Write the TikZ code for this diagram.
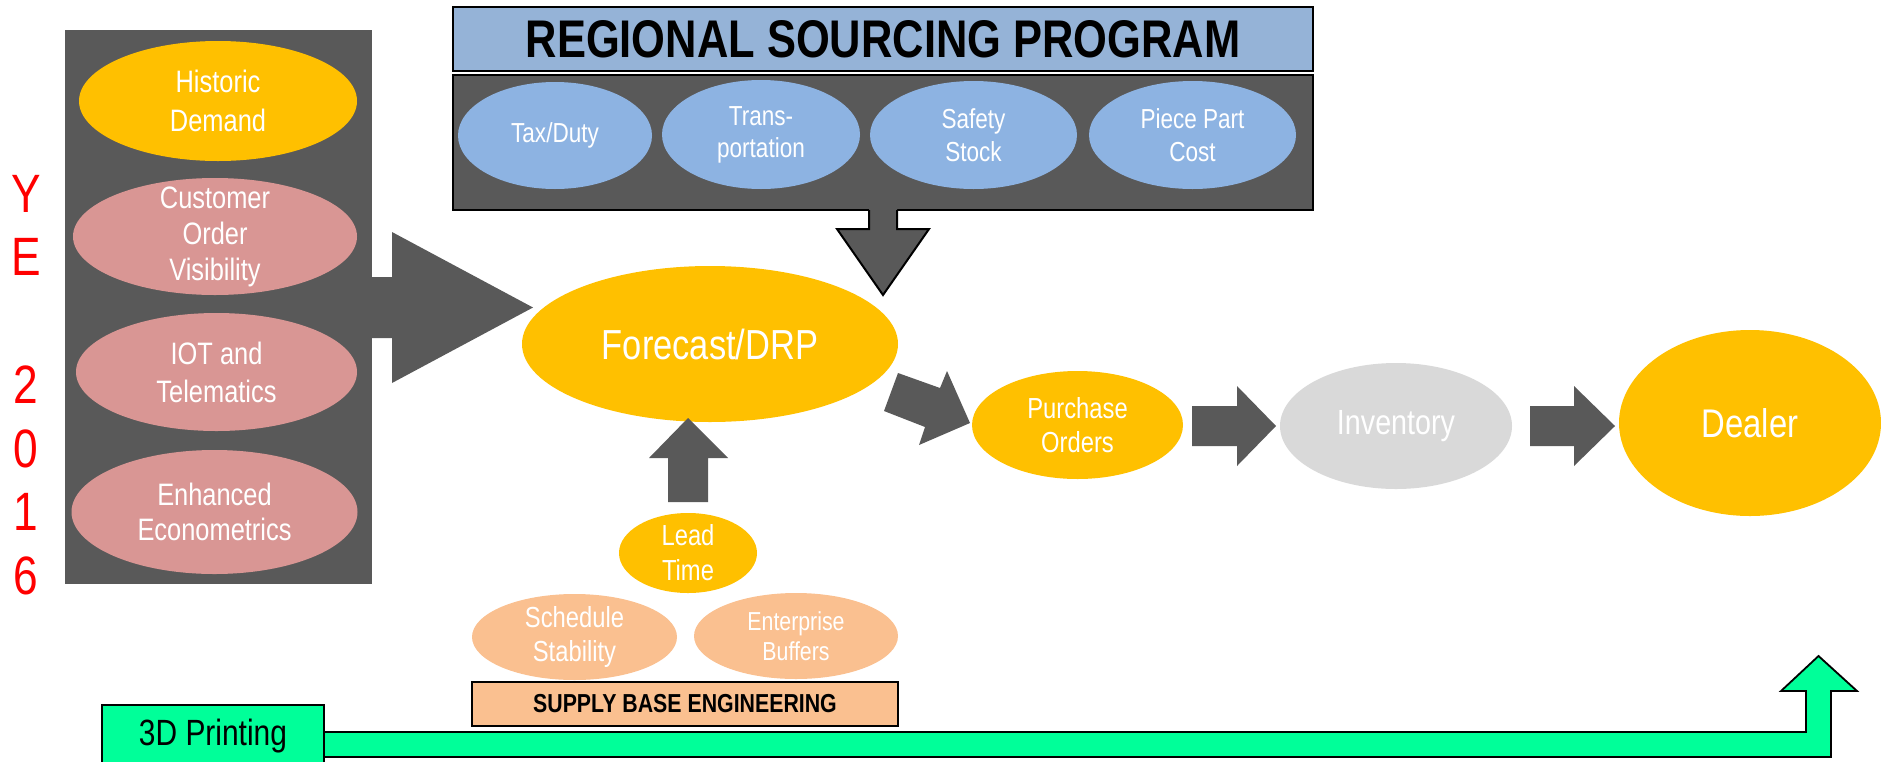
\documentclass[tikz,border=0pt]{standalone}
\usepackage{fontspec}
\setmainfont{Liberation Sans}[FakeStretch=0.82]
\usetikzlibrary{shapes.geometric}
\definecolor{slate}{HTML}{595959}
\definecolor{amber}{HTML}{FFC000}
\definecolor{rose}{HTML}{D99694}
\definecolor{titleblue}{HTML}{95B3D7}
\definecolor{capblue}{HTML}{8DB3E2}
\definecolor{peach}{HTML}{FAC090}
\definecolor{mist}{HTML}{D9D9D9}
\definecolor{mint}{HTML}{00FF99}
\newcommand\fsz[2]{\fontsize{#1}{#2}\selectfont}

\begin{document}
\begin{tikzpicture}[x=1pt,y=-1pt,
  blob/.style={ellipse, draw=none, inner sep=0pt},
  lbl/.style={text=white, align=center, inner sep=0pt},
  panel/.style={rectangle, inner sep=0pt},
  framed/.style={draw=black, line width=2pt},
  block/.style={fill=slate, draw=none},
]
\useasboundingbox (0,0) rectangle (1881,761);
\clip (0,0) rectangle (1881,761);

% ---------- year label ----------
\foreach \ch/\yb [count=\i] in {Y/212,E/275,2/403,0/467,1/530,6/594}
  \node[anchor=base, text=red, font=\fsz{54}{60}, inner sep=0pt] (year-\i) at (26,\yb) {\ch};

% ---------- demand inputs ----------
\node[panel, fill=slate, minimum width=307pt, minimum height=554pt] (inputs) at (218.5,307) {};
\fill[slate] (372,277) -- (392,277) -- (392,232) -- (533,307.5) -- (392,383) -- (392,338) -- (372,338) -- cycle;

\node[blob, fill=amber, minimum width=278pt, minimum height=120pt] (hist) at (218,101) {};
\node[lbl, font=\fsz{31}{39}] (hist-t) at (hist) {Historic\\Demand};
\node[blob, fill=rose, minimum width=284pt, minimum height=117pt] (cov) at (215,236.5) {};
\node[lbl, font=\fsz{31}{36}] (cov-t) at (cov) {Customer\\Order\\Visibility};
\node[blob, fill=rose, minimum width=281pt, minimum height=118pt] (iot) at (216.5,372) {};
\node[lbl, font=\fsz{31}{38}] (iot-t) at (iot) {IOT and\\Telematics};
\node[blob, fill=rose, minimum width=286pt, minimum height=124pt] (econ) at (214.5,512) {};
\node[lbl, font=\fsz{31}{35}] (econ-t) at (econ) {Enhanced\\Econometrics};

% ---------- regional sourcing program ----------
\node[panel, framed, fill=titleblue, minimum width=860pt, minimum height=64pt,
      font=\fsz{53}{60}\bfseries] (title) at (883,39) {REGIONAL SOURCING PROGRAM};
\node[panel, framed, fill=slate, minimum width=860pt, minimum height=135pt] (rsp) at (883,142.5) {};

\node[blob, fill=capblue, minimum width=194pt, minimum height=107pt] (tax) at (555,135.5) {};
\node[lbl, font=\fsz{27.5}{32}] (tax-t) at (tax) {Tax/Duty};
\node[blob, fill=capblue, minimum width=198pt, minimum height=109pt] (trans) at (761,134.5) {};
\node[lbl, font=\fsz{27.5}{32}] (trans-t) at (trans) {Trans-\\portation};
\node[blob, fill=capblue, minimum width=207pt, minimum height=108pt] (safety) at (973.5,135) {};
\node[lbl, font=\fsz{27.5}{33}] (safety-t) at (safety) {Safety\\Stock};
\node[blob, fill=capblue, minimum width=207pt, minimum height=108pt] (piece) at (1192.5,135) {};
\node[lbl, font=\fsz{27.5}{33}] (piece-t) at (piece) {Piece Part\\Cost};

% ---------- main flow ----------
\node[blob, fill=amber, minimum width=376pt, minimum height=156pt] (fc) at (710,344) {};
\node[lbl, font=\fsz{42}{48}] (fc-t) at (fc) {Forecast/DRP};
\node[blob, fill=amber, minimum width=211pt, minimum height=108pt] (po) at (1077.5,425) {};
\node[lbl, font=\fsz{29}{34}] (po-t) at (po) {Purchase\\Orders};
\node[blob, fill=mist, minimum width=232pt, minimum height=126pt] (inv) at (1396,426) {};
\node[lbl, font=\fsz{35}{40}] (inv-t) at (inv) {Inventory};
\node[blob, fill=amber, minimum width=262pt, minimum height=186pt] (dealer) at (1750,423) {};
\node[lbl, font=\fsz{40}{46}] (dealer-t) at (dealer) {Dealer};

% sourcing program feeds the forecast
\fill[slate] (869,208) -- (897,208) -- (897,229) -- (929,229) -- (883,295) -- (837,229) -- (869,229) -- cycle;
\draw[line width=2pt, line join=miter] (869,210) -- (869,229) -- (837,229) -- (883,295) -- (929,229) -- (897,229) -- (897,210);

% block arrows along the flow
\fill[slate] (668,502) -- (708,502) -- (708,458) -- (728,458) -- (688,418) -- (649,458) -- (668,458) -- cycle;
\fill[slate] (898,373) -- (940,388) -- (947,371) -- (970,423) -- (919,445) -- (925,427) -- (884,411) -- cycle;
\fill[slate] (1192,406) -- (1237,406) -- (1237,386) -- (1276,426) -- (1237,466) -- (1237,446) -- (1192,446) -- cycle;
\fill[slate] (1530,406) -- (1574,406) -- (1574,386) -- (1615,426) -- (1574,466) -- (1574,446) -- (1530,446) -- cycle;

% ---------- supply base engineering ----------
\node[blob, fill=amber, minimum width=138pt, minimum height=80pt] (lead) at (688,553) {};
\node[lbl, font=\fsz{29}{35}] (lead-t) at (lead) {Lead\\Time};
\node[blob, fill=peach, minimum width=205pt, minimum height=86pt] (sched) at (574.5,637) {};
\node[lbl, font=\fsz{29}{34}] (sched-t) at (sched) {Schedule\\Stability};
\node[blob, fill=peach, minimum width=204pt, minimum height=86pt] (buf) at (796,636) {};
\node[lbl, font=\fsz{26}{30}] (buf-t) at (buf) {Enterprise\\Buffers};
\node[panel, framed, fill=peach, minimum width=426pt, minimum height=44pt,
      font=\fsz{26}{30}\bfseries] (sbe) at (685,704) {SUPPLY BASE ENGINEERING};

% ---------- 3D printing route to the dealer ----------
\draw[fill=mint, line width=1.8pt, line join=miter]
  (300,732) -- (1806,732) -- (1806,691) -- (1781,691) -- (1818.5,656) -- (1857,691)
  -- (1831,691) -- (1831,757) -- (300,757) -- cycle;
\node[panel, draw=black, line width=1.8pt, fill=mint, minimum width=222pt, minimum height=62pt,
      font=\fsz{36.5}{40}] (print) at (213,736) {3D Printing};
\end{tikzpicture}
\end{document}
